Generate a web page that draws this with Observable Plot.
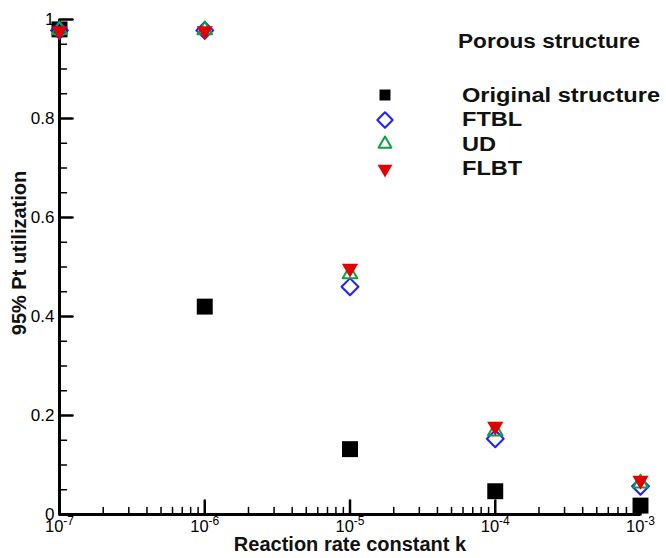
<!DOCTYPE html>
<html><head><meta charset="utf-8">
<script src="https://cdn.jsdelivr.net/npm/d3@7"></script>
<script src="https://cdn.jsdelivr.net/npm/@observablehq/plot@0.6"></script>
<style>
body{margin:0;background:#fff;font-family:Arial,"Liberation Sans",sans-serif}
#wrap{position:relative;width:666px;height:558px;overflow:hidden}
#legend{position:absolute;left:0;top:0;width:666px;font-weight:bold;font-size:20px;color:#111}
#legend .title{position:absolute;left:458px;top:30px;white-space:nowrap;transform:scaleX(1.13);transform-origin:left center}
#legend .row{position:absolute;left:375px;height:24px;display:flex;align-items:center;white-space:nowrap}
#legend .row svg{width:20px;height:20px;margin-right:67px}
#legend .row span{display:inline-block;transform:scaleX(1.18);transform-origin:left center}
</style></head><body><div id="wrap"></div>
<script>
// ---- data ----
const rateK = [1e-7, 1e-6, 1e-5, 1e-4, 1e-3];
const originalStructure = [0.98, 0.42, 0.132, 0.047, 0.018];
const ftbl = [0.978, 0.978, 0.46, 0.153, 0.057];
const ud = [0.979, 0.979, 0.486, 0.168, 0.063];
const flbt = [0.977, 0.977, 0.497, 0.178, 0.069];
const seriesNames = ["Original structure", "FTBL", "UD", "FLBT"];
const legendTitle = "Porous structure";
const xTickValues = [1e-7, 1e-6, 1e-5, 1e-4, 1e-3];
const yTickValues = [0, 0.2, 0.4, 0.6, 0.8, 1];
const xLabel = "Reaction rate constant k";
const yLabel = "95% Pt utilization";

// ---- symbols ----
const triDown = {
  draw(ctx, size) {
    const s3 = Math.sqrt(3);
    const y = -Math.sqrt(size / (s3 * 3));
    ctx.moveTo(0, -y * 2);
    ctx.lineTo(-s3 * y, y);
    ctx.lineTo(s3 * y, y);
    ctx.closePath();
  }
};
const tickShape = {draw(ctx, l) { ctx.moveTo(0, 0); ctx.lineTo(0, -l); }};

const series = [
  {name: seriesNames[0], values: originalStructure, symbol: d3.symbolSquare, fill: "black", stroke: "none", r: 9, sw: 0},
  {name: seriesNames[1], values: ftbl, symbol: d3.symbolDiamond2, fill: "none", stroke: "#1f1fff", r: 7.6, sw: 2},
  {name: seriesNames[2], values: ud, symbol: d3.symbolTriangle2, fill: "none", stroke: "#10a040", r: 7.0, sw: 2},
  {name: seriesNames[3], values: flbt, symbol: triDown, fill: "#e00000", stroke: "none", r: 6.0, sw: 0}
];

const xMinor = [];
for (const dec of xTickValues.slice(0, -1)) for (let m = 2; m <= 9; m++) xMinor.push(dec * m);
const yMinor = d3.range(0, 1.0001, 0.05).filter(v => Math.abs(v * 5 - Math.round(v * 5)) > 1e-6);

const dotMarks = series.map(s => Plot.dot(rateK.map((k, i) => ({k, v: s.values[i]})), {
  x: "k", y: "v", symbol: () => s.symbol, r: s.r, fill: s.fill, stroke: s.stroke, strokeWidth: s.sw, strokeLinejoin: "round"
}));

const chart = Plot.plot({
  width: 666, height: 558,
  marginLeft: 59, marginRight: 26, marginTop: 19, marginBottom: 44,
  style: {fontFamily: "Arial, 'Liberation Sans', sans-serif", background: "white", color: "black"},
  x: {type: "log", domain: [1e-7, 1e-3]},
  y: {domain: [0, 1]},
  symbol: {type: "identity"},
  marks: [
    Plot.axisX({ticks: xTickValues, tickSize: 0, tickPadding: 6, fontSize: 16.5, tickFormat: d => "10^" + Math.round(Math.log10(d)), label: null}),
    Plot.axisY({ticks: yTickValues, tickSize: 0, tickPadding: 5, fontSize: 17, tickFormat: d => d === 0 ? "0" : d === 1 ? "1" : d3.format(".1f")(d), label: null}),
    Plot.vector(xMinor, {x: d => d, y: 0, length: 7, rotate: 0, anchor: "start", shape: tickShape, stroke: "black", strokeWidth: 1.5}),
    Plot.vector(xTickValues, {x: d => d, y: 0, length: 14, rotate: 0, anchor: "start", shape: tickShape, stroke: "black", strokeWidth: 2.5}),
    Plot.vector(yMinor, {x: 1e-7, y: d => d, length: 7, rotate: 90, anchor: "start", shape: tickShape, stroke: "black", strokeWidth: 1.5}),
    Plot.vector(yTickValues, {x: 1e-7, y: d => d, length: 13, rotate: 90, anchor: "start", shape: tickShape, stroke: "black", strokeWidth: 2.5}),
    Plot.ruleX([1e-7], {stroke: "black", strokeWidth: 3}),
    Plot.ruleY([0], {stroke: "black", strokeWidth: 3}),
    ...dotMarks,
    Plot.text([xLabel], {frameAnchor: "bottom", dy: 36, fontSize: 20, fontWeight: "bold", fill: "#111", letterSpacing: 0.6}),
    Plot.text([yLabel], {frameAnchor: "left", textAnchor: "middle", dx: -40, dy: -14, rotate: -90, fontSize: 20, fontWeight: "bold", fill: "#111"})
  ]
});

// superscript exponents
d3.select(chart).selectAll('g[aria-label="x-axis tick label"] text').each(function() {
  const t = this.textContent;
  if (!t.startsWith("10^")) return;
  const exp = t.slice(3);
  this.textContent = "";
  const sel = d3.select(this);
  sel.append("tspan").text("10");
  sel.append("tspan").attr("font-size", 12).attr("dy", "-0.6em").text(exp);
});

const wrap = document.getElementById("wrap");
wrap.appendChild(chart);

// legend
const legend = d3.select(wrap).append("div").attr("id", "legend");
legend.append("div").attr("class", "title").text(legendTitle);
const legendSizes = [120, 150, 120, 95];
series.forEach((s, i) => {
  const row = legend.append("div").attr("class", "row").style("top", (83 + i * 24.6) + "px");
  const svg = row.append("svg").attr("viewBox", "-10 -10 20 20");
  svg.append("path").attr("d", d3.symbol(s.symbol, legendSizes[i])())
    .attr("fill", s.fill).attr("stroke", s.stroke).attr("stroke-width", s.sw).attr("stroke-linejoin", "round");
  row.append("span").text(s.name);
});
</script></body></html>
